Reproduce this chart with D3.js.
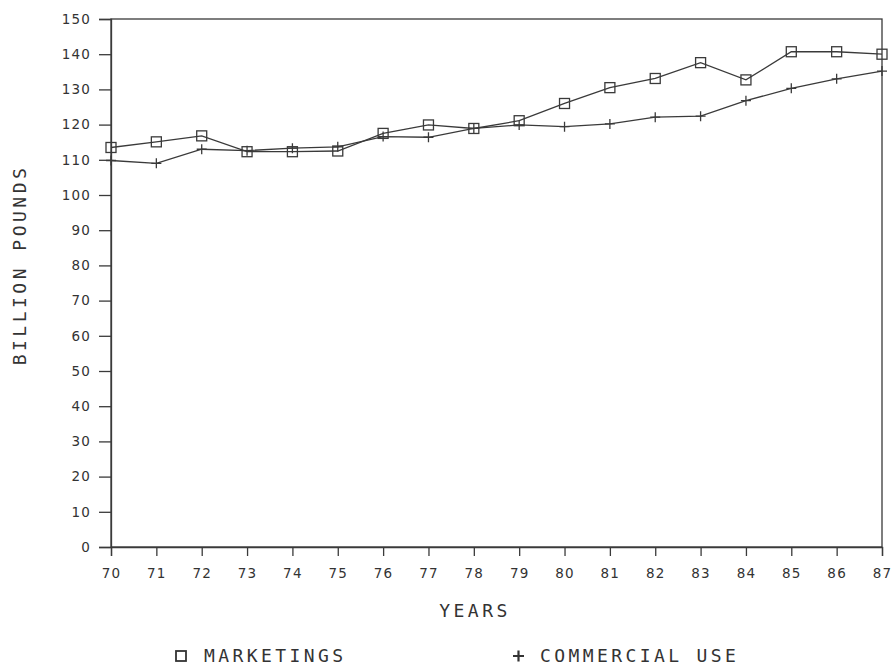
<!DOCTYPE html>
<html><head><meta charset="utf-8">
<script src="https://cdn.jsdelivr.net/npm/d3@7/dist/d3.min.js"></script>
<style>
body{margin:0;background:#fff;}
svg{display:block;}
</style></head>
<body><svg id="c" width="891" height="667"></svg>
<script>
const years = [70,71,72,73,74,75,76,77,78,79,80,81,82,83,84,85,86,87];
const marketings = [113.5,115.1,116.8,112.3,112.3,112.5,117.5,119.9,118.9,121.1,126.0,130.5,133.1,137.6,132.7,140.7,140.7,140.0];
const commercialUse = [109.8,109.0,113.0,112.6,113.3,113.7,116.6,116.4,118.9,119.9,119.4,120.2,122.1,122.4,126.8,130.3,133.0,135.2];
const yTicks = [0,10,20,30,40,50,60,70,80,90,100,110,120,130,140,150];
const seriesNames = ["MARKETINGS","COMMERCIAL USE"];

const svg = d3.select("#c");
const ink = "#3a3a3a";
const x = d3.scaleLinear().domain([70,87]).range([111,882]);
const y = d3.scaleLinear().domain([0,150]).range([547,19]);

// frame
svg.append("rect").attr("x",x(70)).attr("y",y(150)).attr("width",x(87)-x(70)).attr("height",y(0)-y(150))
  .attr("fill","none").attr("stroke",ink).attr("stroke-width",1.3);

const yAxis = svg.append("g").attr("transform",`translate(${x(70)},0)`)
  .call(d3.axisLeft(y).tickValues(yTicks).tickSize(12).tickPadding(8).tickFormat(d3.format("d")));
const xAxis = svg.append("g").attr("transform",`translate(0,${y(0)})`)
  .call(d3.axisBottom(x).tickValues(years).tickSize(9).tickPadding(12).tickFormat(d3.format("d")));
[yAxis,xAxis].forEach(g=>{
  g.select(".domain").attr("stroke",ink).attr("stroke-width",1.3);
  g.selectAll(".tick line").attr("stroke",ink).attr("stroke-width",1.3);
  g.selectAll(".tick text").attr("fill","#333").style("font-family","DejaVu Sans").style("font-size","13.5px").style("letter-spacing","1.2px");
});

const line = d3.line().x((d,i)=>x(years[i])).y(d=>y(d));
svg.append("path").datum(commercialUse).attr("d",line).attr("fill","none").attr("stroke",ink).attr("stroke-width",1.3);
svg.append("path").datum(marketings).attr("d",line).attr("fill","none").attr("stroke",ink).attr("stroke-width",1.3);

// plus markers
svg.append("g").selectAll("path").data(commercialUse).join("path")
  .attr("d",(d,i)=>{const cx=x(years[i]),cy=y(d);return `M${cx-5},${cy}H${cx+5}M${cx},${cy-5}V${cy+5}`;})
  .attr("stroke",ink).attr("stroke-width",1.3).attr("fill","none");
// square markers
svg.append("g").selectAll("rect").data(marketings).join("rect")
  .attr("x",(d,i)=>x(years[i])-5).attr("y",d=>y(d)-5).attr("width",10).attr("height",10)
  .attr("fill","none").attr("stroke",ink).attr("stroke-width",1.3);

const mono = "DejaVu Sans Mono";
svg.append("text").attr("transform","translate(26,265) rotate(-90)").attr("text-anchor","middle")
  .style("font-family",mono).style("font-size","18px").style("letter-spacing","3.5px").attr("fill","#333").text("BILLION POUNDS");
svg.append("text").attr("x",475).attr("y",617).attr("text-anchor","middle")
  .style("font-family",mono).style("font-size","18px").style("letter-spacing","3.5px").attr("fill","#333").text("YEARS");

// legend
svg.append("rect").attr("x",176).attr("y",651).attr("width",10).attr("height",10).attr("fill","none").attr("stroke","#333").attr("stroke-width",1.8);
svg.append("text").attr("x",204).attr("y",662)
  .style("font-family",mono).style("font-size","18px").style("letter-spacing","3.4px").attr("fill","#333").text(seriesNames[0]);
svg.append("path").attr("d","M513,656H524M518.5,650.5V661.5").attr("stroke","#333").attr("stroke-width",2.2);
svg.append("text").attr("x",540).attr("y",662)
  .style("font-family",mono).style("font-size","18px").style("letter-spacing","3.4px").attr("fill","#333").text(seriesNames[1]);
</script></body></html>
